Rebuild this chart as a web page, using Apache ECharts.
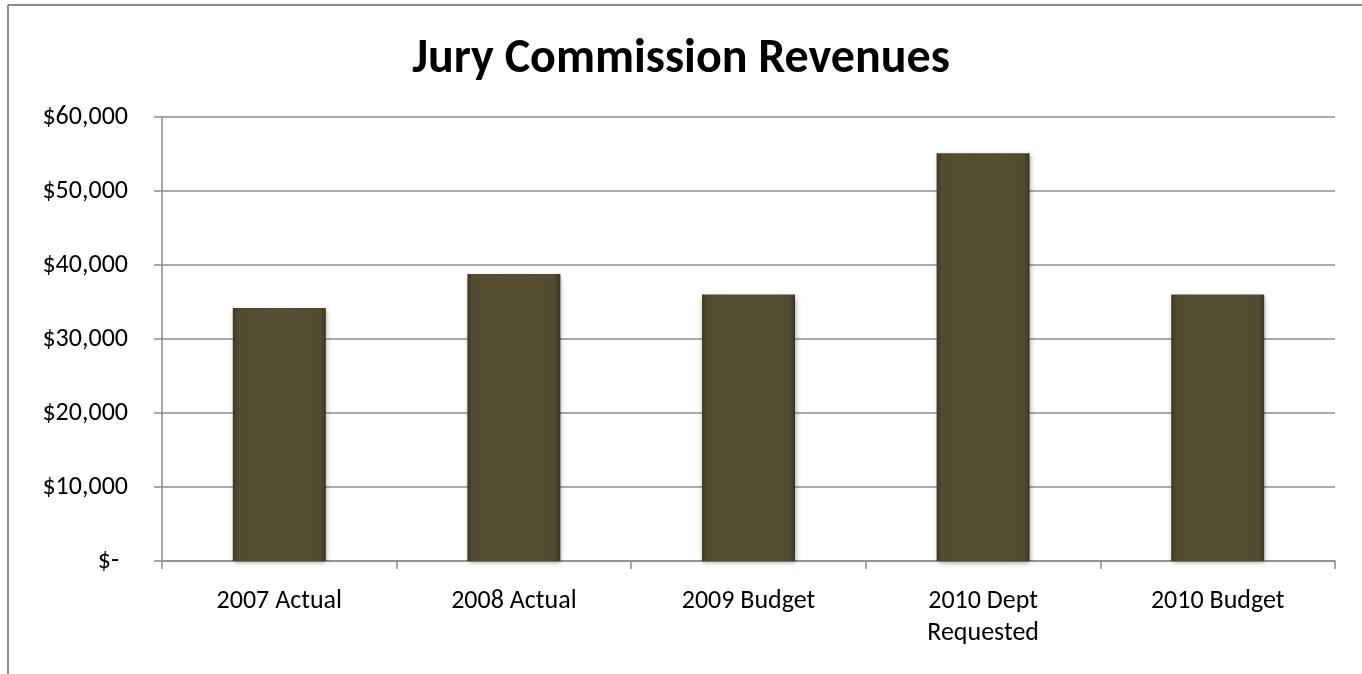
<!DOCTYPE html>
<html>
<head>
<meta charset="utf-8">
<script src="https://cdn.jsdelivr.net/npm/echarts@6/dist/echarts.min.js"></script>
<style>html,body{margin:0;padding:0;background:#fff}#c{width:1362px;height:674px}</style>
</head>
<body>
<div id="c"></div>
<script>
const categories = ['2007 Actual', '2008 Actual', '2009 Budget', '2010 Dept\nRequested', '2010 Budget'];
const revenues = [34200, 38800, 36000, 55100, 36000];
const yTicks = [0, 10000, 20000, 30000, 40000, 50000, 60000];

const chart = echarts.init(document.getElementById('c'));
const font = 'Carlito, Lato, sans-serif';
chart.setOption({
  backgroundColor: '#ffffff',
  animation: false,
  title: {
    text: 'Jury Commission Revenues',
    left: 'center',
    top: 31,
    textStyle: { fontFamily: font, fontWeight: 'bold', fontSize: 48, color: '#000' }
  },
  graphic: [
    { type: 'line', shape: { x1: 8, y1: 5, x2: 1362, y2: 5 }, style: { stroke: '#8c8c8c', lineWidth: 2 } },
    { type: 'line', shape: { x1: 8, y1: 5, x2: 8, y2: 674 }, style: { stroke: '#8c8c8c', lineWidth: 2 } }
  ],
  grid: { left: 162, right: 27, top: 117, bottom: 113 },
  xAxis: {
    type: 'category',
    data: categories,
    axisLine: { lineStyle: { color: '#8c8c8c', width: 1.5 } },
    axisTick: { show: true, length: 8, lineStyle: { color: '#8c8c8c', width: 1.5 } },
    axisLabel: { fontFamily: font, fontSize: 26, color: '#000', margin: 24, lineHeight: 32 }
  },
  yAxis: {
    type: 'value',
    min: yTicks[0],
    max: yTicks[yTicks.length - 1],
    interval: 10000,
    axisLine: { show: true, lineStyle: { color: '#8c8c8c', width: 1.5 } },
    axisTick: { show: true, length: 8, lineStyle: { color: '#8c8c8c', width: 1.5 } },
    splitLine: { lineStyle: { color: '#8c8c8c', width: 1.5 } },
    axisLabel: {
      fontFamily: font, fontSize: 26, color: '#000', margin: 34,
      formatter: function (v) {
        if (v === 0) return '{z|$-}';
        return '$' + v.toLocaleString('en-US');
      },
      rich: { z: { fontFamily: font, fontSize: 26, color: '#000', padding: [0, 9, 0, 0] } }
    }
  },
  series: [{
    type: 'bar',
    data: revenues,
    barWidth: 93,
    itemStyle: {
      color: {
        type: 'linear', x: 0, y: 0, x2: 1, y2: 0,
        colorStops: [
          { offset: 0, color: '#3e3a24' },
          { offset: 0.06, color: '#504b31' },
          { offset: 0.5, color: '#544f34' },
          { offset: 0.94, color: '#504b31' },
          { offset: 1, color: '#3a3621' }
        ]
      },
      shadowColor: 'rgba(0,0,0,0.35)',
      shadowBlur: 5,
      shadowOffsetX: 1,
      shadowOffsetY: 2
    }
  }]
});
</script>
</body>
</html>
